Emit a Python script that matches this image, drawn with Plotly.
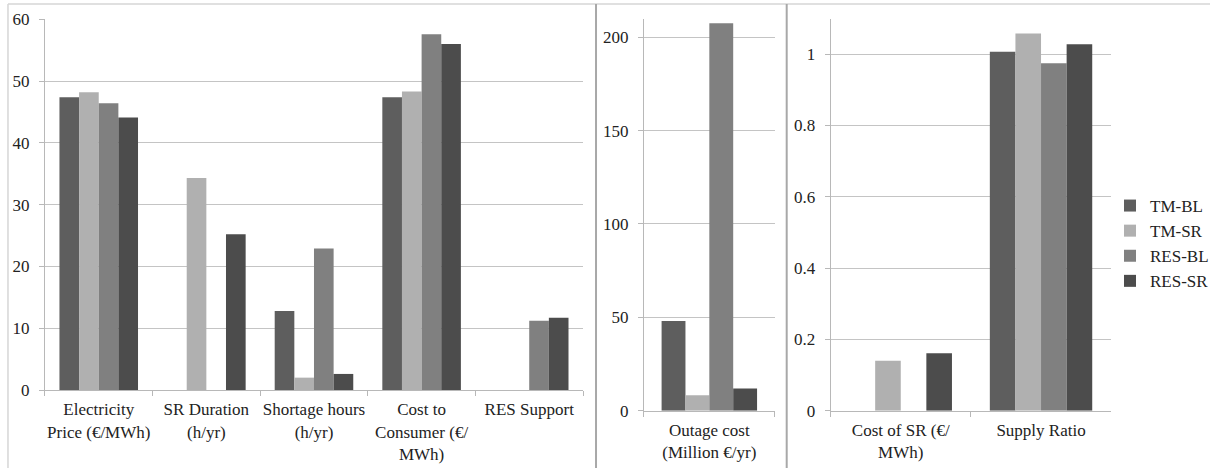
import plotly.graph_objects as go

series = ["TM-BL", "TM-SR", "RES-BL", "RES-SR"]
colors = ["#5e5e5e", "#b0b0b0", "#808080", "#4c4c4c"]

cats_left = ["Electricity<br>Price (€/MWh)", "SR Duration<br>(h/yr)", "Shortage hours<br>(h/yr)",
             "Cost to<br>Consumer (€/<br>MWh)", "RES Support"]
vals_left = {
    "TM-BL": [47.4, 0, 12.8, 47.4, 0],
    "TM-SR": [48.2, 34.3, 2.0, 48.3, 0],
    "RES-BL": [46.4, 0, 22.9, 57.6, 11.2],
    "RES-SR": [44.1, 25.2, 2.6, 56.0, 11.7],
}

cats_mid = ["Outage cost<br>(Million €/yr)"]
vals_mid = {
    "TM-BL": [48.0],
    "TM-SR": [8.3],
    "RES-BL": [207.5],
    "RES-SR": [11.9],
}

cats_right = ["Cost of SR (€/<br>MWh)", "Supply Ratio"]
vals_right = {
    "TM-BL": [0, 1.007],
    "TM-SR": [0.140, 1.058],
    "RES-BL": [0, 0.975],
    "RES-SR": [0.161, 1.028],
}

W, H = 1214, 468
FONT = "Times New Roman, Liberation Serif, DejaVu Serif, serif"
TXT = "#222222"

fig = go.Figure()
panels = [("x", "y", cats_left, vals_left, True),
          ("x2", "y2", cats_mid, vals_mid, False),
          ("x3", "y3", cats_right, vals_right, False)]
for xa, ya, cats, vals, show in panels:
    for s, c in zip(series, colors):
        fig.add_trace(go.Bar(x=cats, y=vals[s], name=s, marker=dict(color=c, line=dict(width=0)),
                             xaxis=xa, yaxis=ya, legendgroup=s, showlegend=show))

def px_x(p):
    return p / W

def px_y(p):
    return 1 - p / H

axis_common = dict(showline=True, linecolor="#b8b8b8", linewidth=1, ticks="outside",
                   ticklen=5, tickcolor="#b8b8b8", automargin=False,
                   tickfont=dict(family=FONT, size=17, color=TXT))
xcommon = dict(axis_common, type="category", tickson="boundaries", showgrid=False, tickangle=0,
               ticklabelstandoff=4)
ycommon = dict(axis_common, showgrid=True, gridcolor="#c4c4c4", gridwidth=1, zeroline=False,
               ticklabelstandoff=6)

fig.update_layout(
    template="none",
    width=W, height=H,
    margin=dict(l=0, r=0, t=0, b=0, pad=0),
    paper_bgcolor="white", plot_bgcolor="white",
    barmode="group", bargap=0.27, bargroupgap=0,
    font=dict(family=FONT, size=17, color=TXT),
    xaxis=dict(xcommon, domain=[px_x(45), px_x(584)], anchor="y"),
    yaxis=dict(ycommon, domain=[px_y(390), px_y(19.3)], range=[0, 60], dtick=10, anchor="x"),
    xaxis2=dict(xcommon, domain=[px_x(645), px_x(776)], anchor="y2"),
    yaxis2=dict(ycommon, domain=[px_y(410.7), px_y(19.3)], range=[0, 209.6], dtick=50, anchor="x2"),
    xaxis3=dict(xcommon, domain=[px_x(832), px_x(1113)], anchor="y3"),
    yaxis3=dict(ycommon, domain=[px_y(410.7), px_y(19.3)], range=[0, 1.098], dtick=0.2, anchor="x3"),
    legend=dict(x=px_x(1112), y=px_y(188), xanchor="left", yanchor="top",
                font=dict(family=FONT, size=17, color=TXT), itemwidth=30,
                bgcolor="rgba(0,0,0,0)", tracegroupgap=0),
    showlegend=True,
)

shapes = [
    dict(type="line", xref="paper", yref="paper", x0=px_x(8), x1=px_x(1212), y0=px_y(4), y1=px_y(4),
         line=dict(color="#d6d6d6", width=1.5)),
    dict(type="line", xref="paper", yref="paper", x0=px_x(8), x1=px_x(8), y0=px_y(4), y1=0,
         line=dict(color="#d6d6d6", width=1.5)),
    dict(type="line", xref="paper", yref="paper", x0=px_x(597), x1=px_x(597), y0=px_y(4), y1=0,
         line=dict(color="#a8a8a8", width=2)),
    dict(type="line", xref="paper", yref="paper", x0=px_x(788), x1=px_x(788), y0=px_y(4), y1=0,
         line=dict(color="#a8a8a8", width=2)),
]
fig.update_layout(shapes=shapes)

fig.write_html("out.html", config={"displayModeBar": False},
               post_script="document.body.style.margin='0';document.body.style.overflow='hidden';")
